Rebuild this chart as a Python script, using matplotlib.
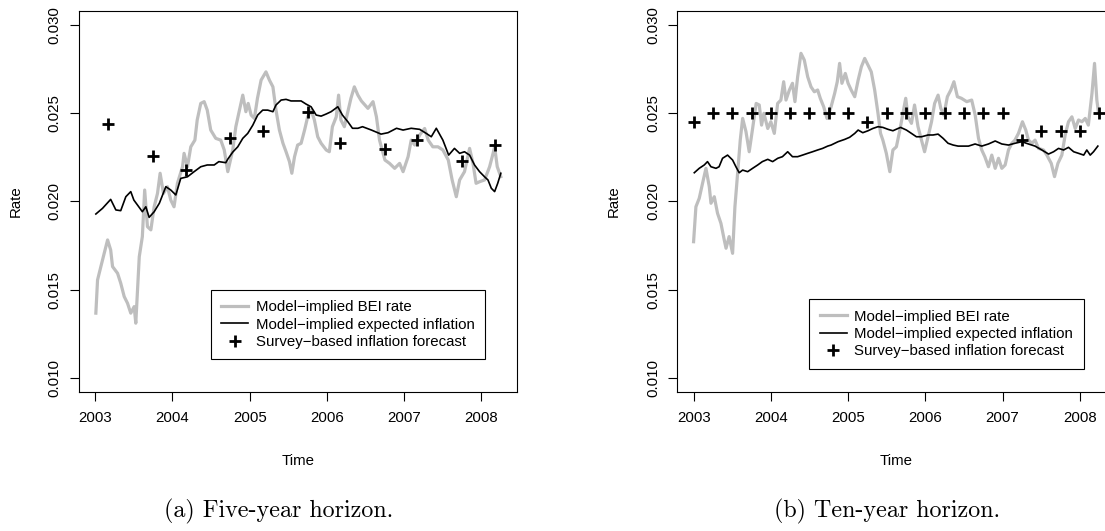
import numpy as np
import matplotlib
matplotlib.use("Agg")
import matplotlib.pyplot as plt

plt.rcParams['font.family'] = ['Liberation Sans', 'DejaVu Sans']

# ---- five-year horizon ----
t5_bei = [2003.008, 2003.03, 2003.073, 2003.116, 2003.16, 2003.20, 2003.224, 2003.289, 2003.33, 2003.375,
          2003.418, 2003.46, 2003.504, 2003.525, 2003.57, 2003.61, 2003.64, 2003.676, 2003.72, 2003.763,
          2003.806, 2003.84, 2003.883, 2003.935, 2003.978, 2004.02, 2004.064, 2004.13, 2004.15, 2004.194,
          2004.237, 2004.29, 2004.32, 2004.366, 2004.41, 2004.45, 2004.495, 2004.56, 2004.625, 2004.67,
          2004.716, 2004.78, 2004.82, 2004.867, 2004.91, 2004.95, 2004.98, 2005.018, 2005.06, 2005.10,
          2005.147, 2005.21, 2005.255, 2005.30, 2005.34, 2005.384, 2005.43, 2005.47, 2005.514, 2005.545,
          2005.58, 2005.62, 2005.665, 2005.71, 2005.75, 2005.794, 2005.837, 2005.88, 2005.924, 2005.99,
          2006.03, 2006.07, 2006.12, 2006.15, 2006.18, 2006.225, 2006.27, 2006.31, 2006.354, 2006.40,
          2006.445, 2006.53, 2006.596, 2006.64, 2006.68, 2006.75, 2006.81, 2006.876, 2006.94, 2006.985,
          2007.05, 2007.09, 2007.135, 2007.20, 2007.264, 2007.31, 2007.37, 2007.437, 2007.50, 2007.57,
          2007.62, 2007.674, 2007.717, 2007.78, 2007.846, 2007.89, 2007.93, 2007.975, 2008.04, 2008.105,
          2008.15, 2008.17, 2008.204, 2008.25]
bei5 = [0.01367, 0.01555, 0.01631, 0.01706, 0.01782, 0.01725, 0.01631, 0.01593, 0.01537, 0.01461,
        0.01423, 0.01367, 0.01404, 0.0131, 0.01687, 0.01801, 0.02065, 0.01857, 0.01839, 0.0197,
        0.02046, 0.0216, 0.02046, 0.02084, 0.02008, 0.0197, 0.02103, 0.02197, 0.02273, 0.02197,
        0.0231, 0.02348, 0.02462, 0.02556, 0.02566, 0.02518, 0.02405, 0.02358, 0.02348, 0.02292,
        0.02169, 0.02292, 0.02424, 0.02518, 0.02603, 0.02509, 0.02556, 0.0249, 0.02471, 0.02585,
        0.02688, 0.02735, 0.02688, 0.0265, 0.02518, 0.02405, 0.0233, 0.02282, 0.02226, 0.0216,
        0.02254, 0.0232, 0.0233, 0.02405, 0.0248, 0.02518, 0.02462, 0.02367, 0.0233, 0.02292,
        0.02282, 0.02424, 0.0248, 0.02603, 0.02462, 0.02424, 0.02509, 0.02585, 0.0265, 0.02603,
        0.0257, 0.02528, 0.02566, 0.0248, 0.02348, 0.02235, 0.02216, 0.02188, 0.02216, 0.02169,
        0.02254, 0.02348, 0.0232, 0.02377, 0.02414, 0.02348, 0.0231, 0.0231, 0.02292, 0.02235,
        0.02122, 0.02027, 0.02122, 0.02169, 0.02301, 0.02216, 0.02103, 0.02112, 0.02122, 0.02197,
        0.02273, 0.0231, 0.02197, 0.02141]

t5_exp = [2003.008, 2003.094, 2003.20, 2003.267, 2003.33, 2003.396, 2003.46, 2003.50, 2003.547, 2003.61,
          2003.655, 2003.698, 2003.763, 2003.83, 2003.914, 2003.978, 2004.043, 2004.107, 2004.194, 2004.28,
          2004.366, 2004.45, 2004.54, 2004.60, 2004.69, 2004.716, 2004.78, 2004.845, 2004.91, 2004.974,
          2005.04, 2005.103, 2005.168, 2005.233, 2005.30, 2005.34, 2005.406, 2005.47, 2005.535, 2005.60,
          2005.665, 2005.73, 2005.794, 2005.86, 2005.924, 2005.99, 2006.053, 2006.14, 2006.20, 2006.27,
          2006.33, 2006.40, 2006.46, 2006.575, 2006.70, 2006.79, 2006.90, 2006.985, 2007.09, 2007.20,
          2007.285, 2007.35, 2007.415, 2007.50, 2007.575, 2007.65, 2007.717, 2007.78, 2007.846, 2007.91,
          2007.975, 2008.04, 2008.084, 2008.127, 2008.17, 2008.21, 2008.25]
exp5 = [0.01929, 0.01961, 0.02012, 0.01952, 0.01948, 0.02027, 0.02056, 0.02008, 0.0198, 0.01942,
        0.0197, 0.0191, 0.01942, 0.0199, 0.02084, 0.02065, 0.02037, 0.02131, 0.0214, 0.02169,
        0.02197, 0.02207, 0.02207, 0.02226, 0.0222, 0.0224, 0.0228, 0.0231, 0.02358, 0.02386,
        0.02433, 0.0249, 0.02518, 0.02518, 0.02509, 0.02547, 0.02575, 0.02579, 0.0257, 0.0257,
        0.0257, 0.02552, 0.02537, 0.0249, 0.02484, 0.02496, 0.02509, 0.02537, 0.0249, 0.02452,
        0.02415, 0.02415, 0.02424, 0.02405, 0.02382, 0.0239, 0.02415, 0.02405, 0.02415, 0.02409,
        0.02386, 0.02367, 0.02415, 0.02348, 0.02263, 0.02301, 0.02273, 0.02282, 0.02263, 0.02207,
        0.02169, 0.0214, 0.02122, 0.02075, 0.02056, 0.02103, 0.0216]

t5_svy = [2003.17, 2003.75, 2004.17, 2004.75, 2005.17, 2005.75, 2006.17, 2006.75, 2007.17, 2007.75, 2008.17]
svy5 = [0.0244, 0.0226, 0.0218, 0.0236, 0.0240, 0.0251, 0.0233, 0.0230, 0.0235, 0.0223, 0.0232]

# ---- ten-year horizon ----
t10_bei = [2003.0, 2003.03, 2003.073, 2003.116, 2003.16, 2003.203, 2003.225, 2003.268, 2003.31, 2003.354,
           2003.397, 2003.42, 2003.46, 2003.505, 2003.535, 2003.57, 2003.604, 2003.635, 2003.678, 2003.72,
           2003.764, 2003.81, 2003.85, 2003.88, 2003.91, 2003.96, 2004.0, 2004.045, 2004.088, 2004.13,
           2004.166, 2004.196, 2004.24, 2004.28, 2004.312, 2004.347, 2004.39, 2004.433, 2004.477, 2004.52,
           2004.563, 2004.606, 2004.64, 2004.684, 2004.727, 2004.78, 2004.826, 2004.86, 2004.89, 2004.92,
           2004.964, 2005.0, 2005.04, 2005.086, 2005.13, 2005.172, 2005.215, 2005.258, 2005.30, 2005.344,
           2005.387, 2005.42, 2005.45, 2005.495, 2005.54, 2005.58, 2005.625, 2005.67, 2005.71, 2005.746,
           2005.776, 2005.82, 2005.86, 2005.905, 2005.95, 2005.99, 2006.035, 2006.08, 2006.12, 2006.165,
           2006.2, 2006.24, 2006.285, 2006.33, 2006.37, 2006.415, 2006.467, 2006.536, 2006.6, 2006.645,
           2006.688, 2006.73, 2006.77, 2006.817, 2006.86, 2006.904, 2006.947, 2006.99, 2007.033, 2007.076,
           2007.12, 2007.16, 2007.205, 2007.257, 2007.3, 2007.335, 2007.38, 2007.42, 2007.465, 2007.53,
           2007.573, 2007.63, 2007.672, 2007.716, 2007.767, 2007.81, 2007.853, 2007.897, 2007.94, 2007.983,
           2008.027, 2008.07, 2008.11, 2008.157, 2008.19, 2008.22, 2008.24]
bei10 = [0.01772, 0.0197, 0.02018, 0.02103, 0.02188, 0.02084, 0.0199, 0.02027, 0.01933, 0.01876,
         0.01782, 0.01735, 0.01801, 0.01706, 0.0197, 0.0216, 0.02348, 0.02471, 0.02396, 0.02282,
         0.02414, 0.02556, 0.02547, 0.02433, 0.025, 0.02414, 0.02452, 0.02386, 0.02556, 0.02575,
         0.02679, 0.02575, 0.02632, 0.0267, 0.02566, 0.02707, 0.0284, 0.02802, 0.02707, 0.0265,
         0.02622, 0.02632, 0.02585, 0.02537, 0.02471, 0.02537, 0.02613, 0.02679, 0.02783, 0.0267,
         0.02726, 0.0267, 0.02632, 0.02594, 0.02688, 0.02764, 0.02811, 0.02773, 0.02735, 0.02632,
         0.025, 0.02386, 0.02348, 0.02273, 0.02169, 0.02292, 0.0231, 0.02405, 0.025, 0.02585,
         0.0248, 0.02443, 0.02547, 0.02424, 0.02348, 0.02282, 0.02367, 0.02452, 0.02556, 0.02603,
         0.02528, 0.0249, 0.02594, 0.02632, 0.02679, 0.02594, 0.02585, 0.02566, 0.02575, 0.0249,
         0.02358, 0.02292, 0.02254, 0.02197, 0.02263, 0.02188, 0.02245, 0.02188, 0.02207, 0.02292,
         0.0233, 0.02348, 0.02386, 0.02452, 0.02405, 0.02348, 0.0233, 0.02348, 0.02301, 0.02292,
         0.02263, 0.02216, 0.02141, 0.02216, 0.02263, 0.02377, 0.02452, 0.0248, 0.02414, 0.02462,
         0.02452, 0.02471, 0.02433, 0.02613, 0.02783, 0.02575, 0.02509]

t10_exp = [2003.009, 2003.073, 2003.138, 2003.18, 2003.225, 2003.29, 2003.33, 2003.375, 2003.44, 2003.505,
           2003.548, 2003.59, 2003.635, 2003.70, 2003.764, 2003.83, 2003.89, 2003.96, 2004.023, 2004.09,
           2004.15, 2004.218, 2004.28, 2004.347, 2004.41, 2004.477, 2004.54, 2004.606, 2004.67, 2004.736,
           2004.78, 2004.87, 2004.956, 2005.02, 2005.086, 2005.13, 2005.19, 2005.258, 2005.32, 2005.387,
           2005.45, 2005.517, 2005.58, 2005.647, 2005.68, 2005.755, 2005.82, 2005.884, 2005.95, 2006.035,
           2006.10, 2006.165, 2006.23, 2006.294, 2006.36, 2006.424, 2006.51, 2006.558, 2006.644, 2006.73,
           2006.817, 2006.904, 2006.99, 2007.076, 2007.16, 2007.25, 2007.335, 2007.42, 2007.508, 2007.595,
           2007.66, 2007.724, 2007.79, 2007.853, 2007.92, 2007.983, 2008.05, 2008.09, 2008.134, 2008.177,
           2008.233]
exp10 = [0.02163, 0.02188, 0.02207, 0.02226, 0.02197, 0.02188, 0.02197, 0.02245, 0.02263, 0.02235,
         0.02197, 0.02163, 0.02178, 0.02169, 0.02188, 0.02207, 0.02226, 0.02239, 0.02226, 0.02245,
         0.02254, 0.02282, 0.02254, 0.02254, 0.02263, 0.02273, 0.02282, 0.02292, 0.02301, 0.02314,
         0.0232, 0.02339, 0.02352, 0.02364, 0.02386, 0.02405, 0.0239, 0.02401, 0.02414, 0.02424,
         0.0242, 0.02409, 0.02401, 0.02414, 0.0242, 0.02405, 0.02386, 0.02367, 0.02367, 0.02377,
         0.02377, 0.02382, 0.02358, 0.0233, 0.0232, 0.02314, 0.02314, 0.02314, 0.02326, 0.02314,
         0.02326, 0.02343, 0.02326, 0.0232, 0.0233, 0.02339, 0.02326, 0.02314, 0.02292, 0.02269,
         0.02282, 0.02301, 0.02292, 0.02307, 0.02282, 0.02273, 0.02263, 0.02292, 0.02263, 0.02282,
         0.02314]

t10_svy = [2003.0, 2003.25, 2003.5, 2003.75, 2004.0, 2004.25, 2004.5, 2004.75, 2005.0, 2005.25, 2005.5,
           2005.75, 2006.0, 2006.25, 2006.5, 2006.75, 2007.0, 2007.25, 2007.5, 2007.75, 2008.0, 2008.25]
svy10 = [0.0245, 0.025, 0.025, 0.025, 0.025, 0.025, 0.025, 0.025, 0.025, 0.0245, 0.025,
         0.025, 0.025, 0.025, 0.025, 0.025, 0.025, 0.0235, 0.024, 0.024, 0.024, 0.025]

labels = ['Model\u2212implied BEI rate', 'Model\u2212implied expected inflation',
          'Survey\u2212based inflation forecast']
captions = ['(a) Five-year horizon.', '(b) Ten-year horizon.']

FS = 10.8
fig = plt.figure(figsize=(11.05, 5.31), dpi=100)
ax1 = fig.add_axes([0.0715, 0.2618, 0.3964, 0.7175])
ax2 = fig.add_axes([0.613, 0.2618, 0.3964, 0.7175])

panels = [(ax1, t5_bei, bei5, t5_exp, exp5, t5_svy, svy5, 0.268),
          (ax2, t10_bei, bei10, t10_exp, exp10, t10_svy, svy10, 0.244)]

for ax, tb, b, te, e, ts, s, legy in panels:
    l1, = ax.plot(tb, b, color='#bebebe', lw=2.3, solid_joinstyle='round')
    l2, = ax.plot(te, e, color='black', lw=1.2)
    l3, = ax.plot(ts, s, linestyle='none', marker='+', ms=9, mew=2.0, color='black')
    ax.set_xlim(2002.79, 2008.46)
    ax.set_ylim(0.0092, 0.0308)
    ax.set_xticks([2003, 2004, 2005, 2006, 2007, 2008])
    ax.set_yticks([0.010, 0.015, 0.020, 0.025, 0.030])
    ax.set_yticklabels(['%.3f' % v for v in [0.010, 0.015, 0.020, 0.025, 0.030]])
    ax.tick_params(direction='out', length=6.5, width=0.8, labelsize=FS, colors='black')
    ax.tick_params(axis='x', pad=7)
    ax.tick_params(axis='y', pad=6)
    plt.setp(ax.get_yticklabels(), rotation=90, va='center')
    for sp in ax.spines.values():
        sp.set_linewidth(0.8)
    ax.set_xlabel('Time', fontsize=FS, labelpad=21)
    ax.set_ylabel('Rate', fontsize=FS, labelpad=18)
    leg = ax.legend([l1, l2, l3], labels, loc='upper left', bbox_to_anchor=(0.301, legy),
                    borderaxespad=0, fancybox=False, edgecolor='black', framealpha=1,
                    fontsize=FS, handlelength=1.8, handletextpad=0.5, labelspacing=0.22,
                    borderpad=0.7, numpoints=1)
    leg.get_frame().set_linewidth(0.8)

fig.text(0.252, 0.037, captions[0], family='cmr10', fontsize=17.3, ha='center', va='center')
fig.text(0.803, 0.037, captions[1], family='cmr10', fontsize=17.3, ha='center', va='center')

fig.savefig('out.png', dpi=100)
